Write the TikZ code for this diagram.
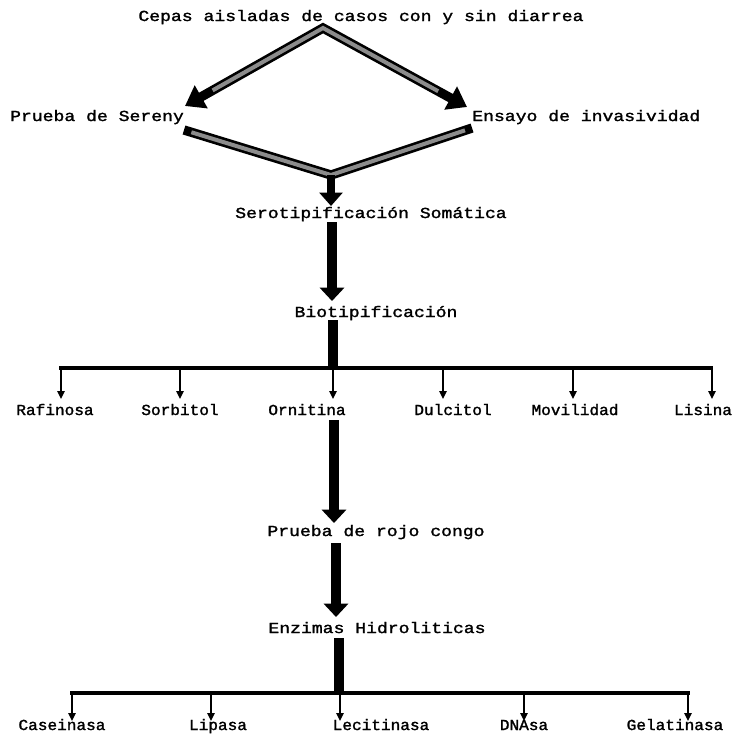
\documentclass[tikz,border=0pt]{standalone}
\usepackage{fontspec}
\newfontfamily\dmA[FakeStretch=1.18,FakeBold=1.6]{Liberation Mono}
\newfontfamily\dmB[FakeStretch=1.05,FakeBold=1.6]{Liberation Mono}
\usetikzlibrary{arrows.meta,calc}
\begin{document}
\begin{tikzpicture}[x=0.75pt,y=-0.75pt,
  big/.style={font=\dmA\fontsize{11.5}{13}\selectfont, inner sep=0pt, anchor=base},
  small/.style={font=\dmB\fontsize{11.5}{13}\selectfont, inner sep=0pt, anchor=base},
  diagout/.style={draw=black, line width=7pt, line join=miter},
  diagin/.style={draw=black!45, line width=3pt, line join=miter},
  diagtips/.style={{Triangle[length=14pt,width=19pt]}-{Triangle[length=14pt,width=19pt]}},
  bigarrow/.style={draw=black, line width=8pt, -{Triangle[length=10pt,width=18pt]}},
  shaft/.style={draw=black, line width=8pt},
  barline/.style={draw=black, line width=3.6pt},
  branch/.style={draw=black, line width=1.2pt, -{Triangle[length=6pt,width=5.5pt]}}]
\useasboundingbox (0,0) rectangle (737,733);

% texts
\node[big] (title) at (361,21) {Cepas aisladas de casos con y sin diarrea};
\node[big] (sereny) at (97,121) {Prueba de Sereny};
\node[big, anchor=base west] (ensayo) at (472,121) {Ensayo de invasividad};
\node[big] (sero) at (371,218) {Serotipificación Somática};
\node[big] (bio) at (376,317) {Biotipificación};
\node[small] (raf) at (55,415) {Rafinosa};
\node[small] (sor) at (180,415) {Sorbitol};
\node[small] (orn) at (307,415) {Ornitina};
\node[small] (dul) at (453,415) {Dulcitol};
\node[small] (mov) at (575,415) {Movilidad};
\node[small] (lis) at (703,415) {Lisina};
\node[big] (rojo) at (376,536) {Prueba de rojo congo};
\node[big] (enz) at (377,633) {Enzimas Hidroliticas};
\node[small] (cas) at (62,730) {Caseinasa};
\node[small] (lip) at (218,730) {Lipasa};
\node[small] (lec) at (381,730) {Lecitinasa};
\node[small] (dna) at (524,730) {DNAsa};
\node[small] (gel) at (675,730) {Gelatinasa};

% coordinates
\coordinate (apex) at (323,28);
\coordinate (tipL) at (185,106);
\coordinate (tipR) at (467,107);
\coordinate (vL) at (184,130);
\coordinate (vR) at (472,128);
\coordinate (vB) at (331,175);
\coordinate (s1) at (331,206);
\coordinate (s2a) at (332,222);
\coordinate (s2b) at (332,301);
\coordinate (b1) at (333,320);
\coordinate (bar1) at (333,368);
\coordinate (barL1) at (59,368);
\coordinate (barR1) at (713,368);
\coordinate (r3a) at (334,420);
\coordinate (r3b) at (334,523);
\coordinate (r4a) at (336,543);
\coordinate (r4b) at (336,617);
\coordinate (e1) at (339,638);
\coordinate (bar2) at (339,693);
\coordinate (barL2) at (70,693);
\coordinate (barR2) at (690,693);

% top diagonal arrows
\draw[diagout, diagtips] (tipL) -- (apex) -- (tipR);
\draw[diagin] ($(apex)!0.8!(tipL)$) -- (apex) -- ($(apex)!0.8!(tipR)$);
% lower V
\draw[diagout] (vL) -- (vB) -- (vR);
\draw[diagin] ($(vB)!0.95!(vL)$) -- (vB) -- ($(vB)!0.95!(vR)$);
\draw[draw=black, line width=6.5pt, -{Triangle[length=10pt,width=17pt]}] (vB) -- (s1);

% vertical arrows
\draw[bigarrow] (s2a) -- (s2b);
\draw[shaft] (b1) -- (bar1);
\draw[barline] (barL1) -- (barR1);
\foreach \x in {61,180,333,443,573,712}
  \draw[branch] (\x,368) -- (\x,399);
\draw[bigarrow] (r3a) -- (r3b);
\draw[bigarrow] (r4a) -- (r4b);
\draw[shaft] (e1) -- (bar2);
\draw[barline] (barL2) -- (barR2);
\foreach \x in {72,211,340,524,688}
  \draw[branch] (\x,693) -- (\x,721);
\end{tikzpicture}
\end{document}
